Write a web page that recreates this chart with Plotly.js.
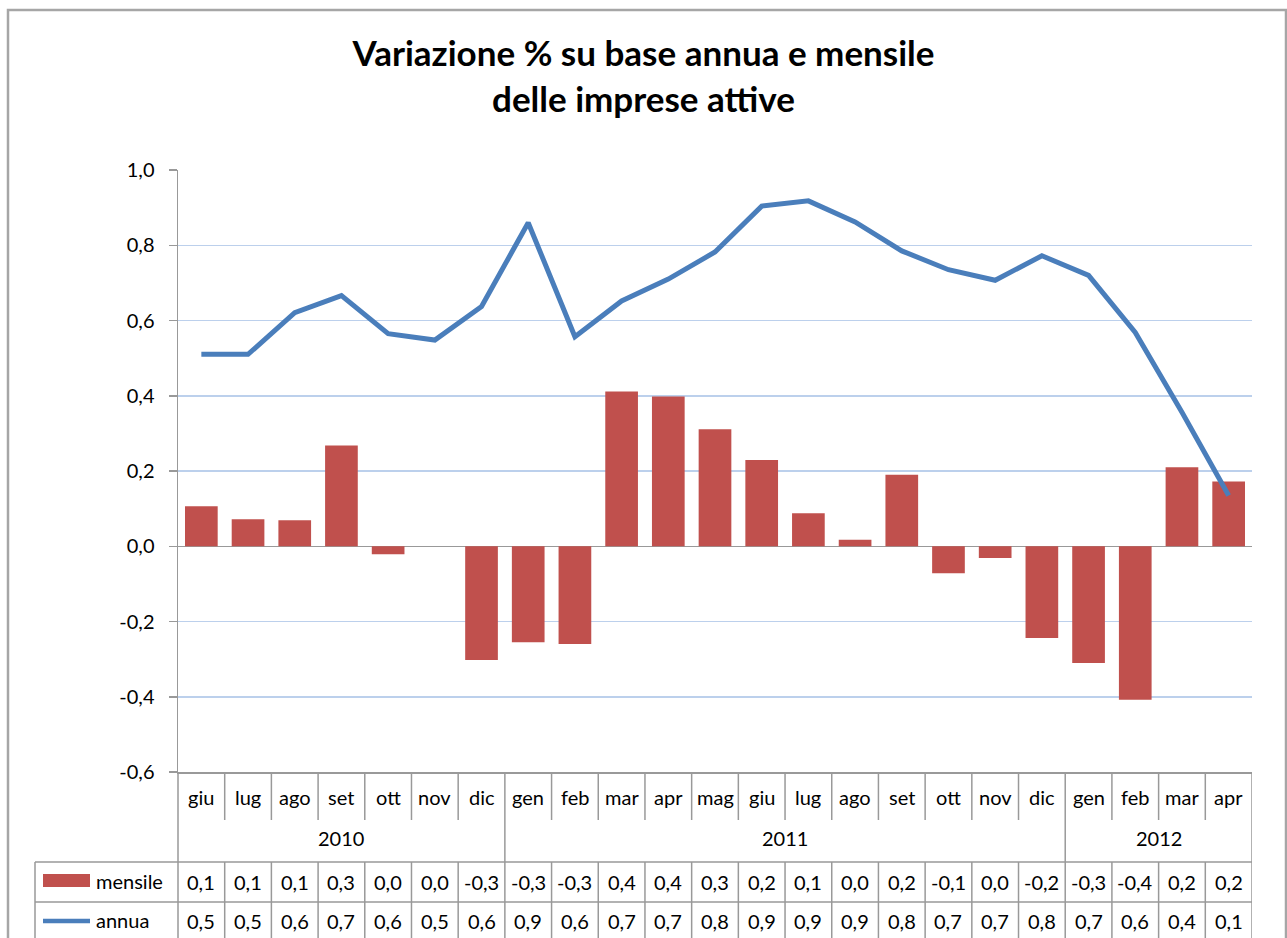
<!DOCTYPE html>
<html>
<head>
<meta charset="utf-8">
<script src="https://cdn.plot.ly/plotly-3.0.1.min.js"></script>
<style>
html,body{margin:0;padding:0;background:#fff;}
#chart{width:1287px;height:938px;}
</style>
</head>
<body>
<div id="chart"></div>
<script>
// ---- data ----
const months = ['giu','lug','ago','set','ott','nov','dic','gen','feb','mar','apr','mag','giu','lug','ago','set','ott','nov','dic','gen','feb','mar','apr'];
const years = ['2010','2011','2012'];
const yearCounts = [7, 12, 4];
const mensile = [0.106,0.072,0.069,0.268,-0.021,0.0,-0.302,-0.255,-0.26,0.411,0.398,0.311,0.229,0.088,0.017,0.19,-0.072,-0.031,-0.244,-0.31,-0.408,0.21,0.172];
const annua = [0.51,0.51,0.621,0.666,0.565,0.548,0.637,0.86,0.557,0.652,0.71,0.782,0.904,0.918,0.862,0.785,0.735,0.707,0.772,0.72,0.568,0.356,0.135];
const yTicks = [-0.6,-0.4,-0.2,0.0,0.2,0.4,0.6,0.8,1.0];
const seriesNames = ['mensile','annua'];

// ---- layout helpers ----
const W = 1287, H = 938;
const M = {l:178, r:35, t:170, b:166};
const PW = W - M.l - M.r, PH = H - M.t - M.b;
const px = p => (p - M.l) / PW;          // pixel x -> paper
const py = p => (H - M.b - p) / PH;      // pixel y -> paper
const fmt = v => { let s = Math.abs(v) < 0.05 ? '0.0' : v.toFixed(1); return s.replace('.', ','); };

const FONT = 'Lato, "Open Sans", sans-serif';
const GRID = '#999999';
const xs = months.map((_, i) => i);
const n = months.length;

const shapes = [];
const ann = [];
const hline = (x0, x1, y, xref) => shapes.push({type:'line', xref: xref||'paper', yref:'paper', x0, x1, y0:py(y), y1:py(y), line:{color:GRID, width:1.5}, layer:'above'});
const vline = (x, y0, y1, xref) => shapes.push({type:'line', xref: xref||'paper', yref:'paper', x0:x, x1:x, y0:py(y0), y1:py(y1), line:{color:GRID, width:1.5}, layer:'above'});

// outer chart border
shapes.push({type:'rect', xref:'paper', yref:'paper', x0:px(8), x1:px(1286), y0:py(10), y1:py(960), line:{color:'#a6a6a6', width:2.5}});

// table horizontal lines
hline(px(35), px(1252), 862);
hline(px(35), px(1252), 902);
// table vertical lines
vline(px(35), 862, 960);
vline(px(178), 772, 960);
let yearBounds = new Set();
let acc = 0;
yearCounts.forEach(c => { acc += c; yearBounds.add(acc); });
for (let i = 1; i <= n; i++) {
  const xb = i - 0.5;
  if (yearBounds.has(i)) {
    vline(xb, 772, 960, 'x');
  } else {
    vline(xb, 772, 820, 'x');
    vline(xb, 862, 960, 'x');
  }
}

// month labels & table values
months.forEach((m, i) => {
  ann.push({xref:'x', yref:'paper', x:i, y:py(797), text:m, showarrow:false, xanchor:'center', yanchor:'middle', font:{family:FONT, size:20, color:'#000'}});
  ann.push({xref:'x', yref:'paper', x:i, y:py(882), text:fmt(mensile[i]), showarrow:false, xanchor:'center', yanchor:'middle', font:{family:FONT, size:20, color:'#000'}});
  ann.push({xref:'x', yref:'paper', x:i, y:py(921), text:fmt(annua[i]), showarrow:false, xanchor:'center', yanchor:'middle', font:{family:FONT, size:20, color:'#000'}});
});
// year labels
acc = 0;
years.forEach((yv, k) => {
  const c = acc + (yearCounts[k] - 1) / 2;
  acc += yearCounts[k];
  ann.push({xref:'x', yref:'paper', x:c, y:py(838), text:yv, showarrow:false, xanchor:'center', yanchor:'middle', font:{family:FONT, size:20, color:'#000'}});
});
// legend keys in table
shapes.push({type:'rect', xref:'paper', yref:'paper', x0:px(43), x1:px(90), y0:py(874), y1:py(887), fillcolor:'#c0504d', line:{width:0}});
shapes.push({type:'line', xref:'paper', yref:'paper', x0:px(43), x1:px(90), y0:py(921), y1:py(921), line:{color:'#4a7ebb', width:4.5}});
ann.push({xref:'paper', yref:'paper', x:px(94), y:py(881), text:seriesNames[0], showarrow:false, xanchor:'left', yanchor:'middle', font:{family:FONT, size:20, color:'#000'}});
ann.push({xref:'paper', yref:'paper', x:px(94), y:py(920), text:seriesNames[1], showarrow:false, xanchor:'left', yanchor:'middle', font:{family:FONT, size:20, color:'#000'}});

const data = [
  {type:'bar', name:seriesNames[0], x:xs, y:mensile, width:0.7,
   marker:{color:'#c0504d', line:{width:0}}, hoverinfo:'y'},
  {type:'scatter', mode:'lines', name:seriesNames[1], x:xs, y:annua,
   line:{color:'#4a7ebb', width:5}, hoverinfo:'y'}
];

const layout = {
  width:W, height:H,
  margin:M,
  paper_bgcolor:'#fff', plot_bgcolor:'#fff',
  showlegend:false,
  separators:',.',
  title:{text:'<b>Variazione % su base annua e mensile<br>delle imprese attive</b>',
         font:{family:FONT, size:35, color:'#000'},
         x:0.5, xref:'container', xanchor:'center', y:1 - 66/H, yref:'container', yanchor:'middle'},
  xaxis:{range:[-0.5, n - 0.5], showticklabels:false, showgrid:false, zeroline:false,
         showline:true, linecolor:GRID, linewidth:1.5, ticks:'', fixedrange:true},
  yaxis:{range:[-0.6, 1.0], tickvals:yTicks, ticktext:yTicks.map(v => v.toFixed(1).replace('.', ',')),
         showgrid:true, gridcolor:'#bcd0ec', gridwidth:1.5,
         zeroline:true, zerolinecolor:GRID, zerolinewidth:1.5,
         showline:true, linecolor:GRID, linewidth:1.5,
         ticks:'outside', ticklen:8, tickcolor:GRID, tickwidth:1.5,
         ticklabelstandoff:10,
         tickfont:{family:FONT, size:20, color:'#000'}, fixedrange:true},
  shapes:shapes,
  annotations:ann,
  bargap:0.3
};

Plotly.newPlot('chart', data, layout, {displayModeBar:false, staticPlot:true});
</script>
</body>
</html>
